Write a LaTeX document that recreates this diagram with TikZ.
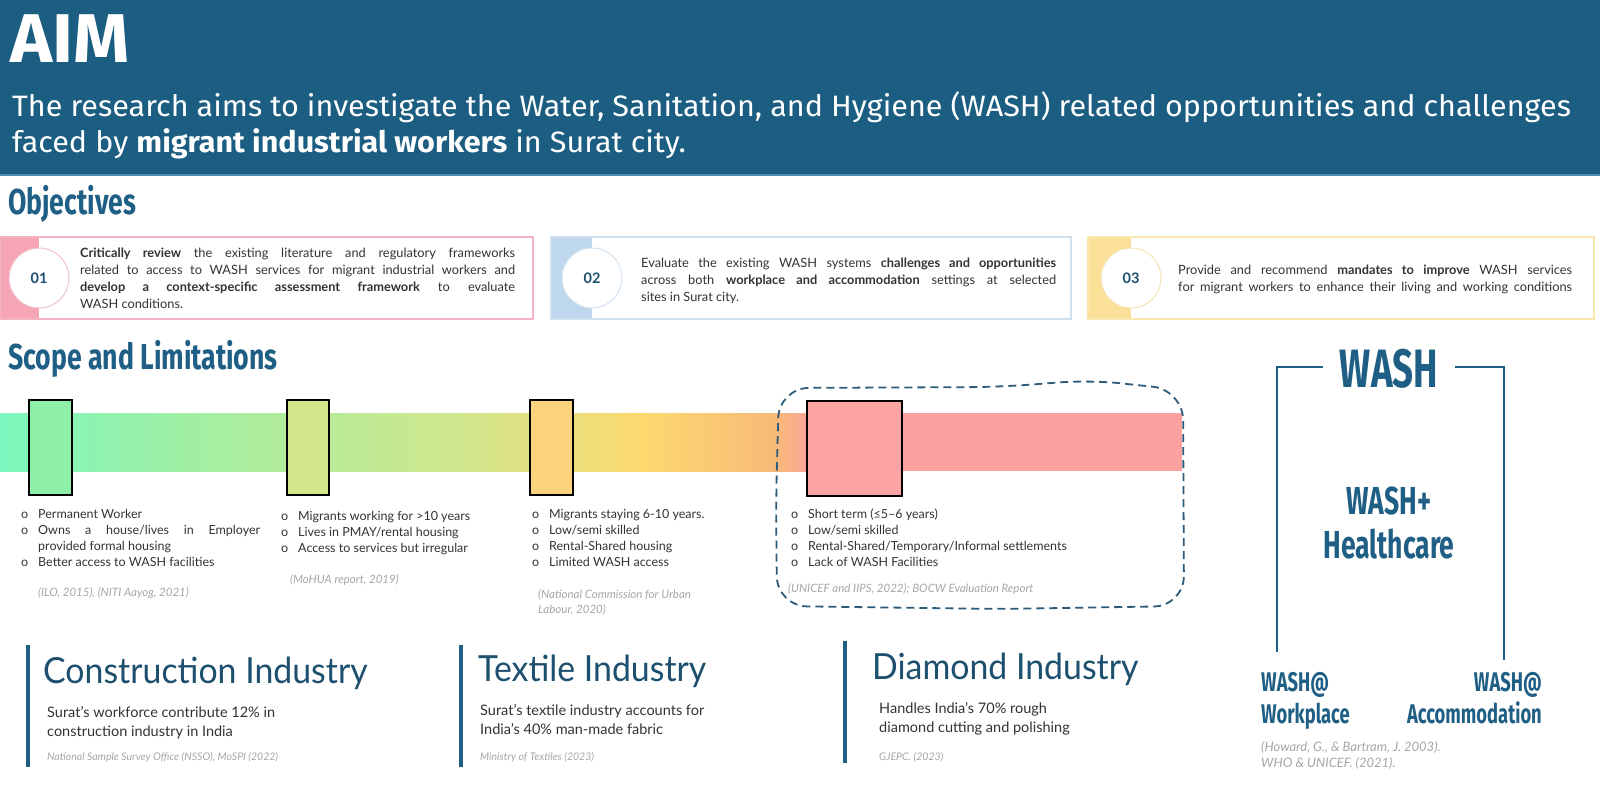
\documentclass[tikz,border=0pt]{standalone}
\usepackage{fontspec}
\usepackage{graphicx}
\setmainfont{Lato}
\newfontfamily\headfont[FakeStretch=1.035]{Fira Sans}
\newfontfamily\condfont[FakeStretch=0.68]{Fira Sans}
\newfontfamily\secfont[FakeStretch=0.74]{Fira Sans}
\newfontfamily\titlefont[FakeStretch=0.94]{Lato}
\newsavebox\jbox
\newcommand\jline[2]{\sbox\jbox{#2}\ifdim\wd\jbox>#1\relax\resizebox{#1}{\height}{#2}\else\makebox[#1][s]{#2}\fi}
\newcommand\bul{\makebox[17pt][l]{o}}
\newcommand\stk[1]{\begin{tabular}[t]{@{}l@{}}#1\end{tabular}}
\definecolor{headblue}{HTML}{1B5E82}
\definecolor{headline}{HTML}{4F8DB0}
\definecolor{secblue}{HTML}{1F5F85}
\definecolor{numblue}{HTML}{1A4E6E}
\definecolor{titleblue}{HTML}{1D4F6E}
\definecolor{bodygray}{HTML}{333333}
\definecolor{citegray}{HTML}{A6A6A6}
\definecolor{pinkborder}{HTML}{F3B3C3}
\definecolor{pinkstrip}{HTML}{F6A5B7}
\definecolor{pinkcircle}{HTML}{F0C0CC}
\definecolor{blueborder}{HTML}{CFE0EF}
\definecolor{bluestrip}{HTML}{BFD7EC}
\definecolor{bluecircle}{HTML}{D3E3F1}
\definecolor{yelborder}{HTML}{FAE7AE}
\definecolor{yelstrip}{HTML}{FBE09A}
\definecolor{yelcircle}{HTML}{F5E4B2}
\definecolor{gA}{HTML}{7CF7BD}
\definecolor{gB}{HTML}{A3EFA2}
\definecolor{gC}{HTML}{D2E68C}
\definecolor{gD}{HTML}{FCD96F}
\definecolor{gE}{HTML}{F8BA78}
\definecolor{gF}{HTML}{FBA1A0}
\definecolor{rA}{HTML}{8EF0A8}
\definecolor{rB}{HTML}{D2E78C}
\definecolor{rC}{HTML}{FCD27C}
\definecolor{rD}{HTML}{FCA3A3}
\definecolor{dashblue}{HTML}{2E5B7A}
\tikzset{
  txt/.style={inner sep=0, anchor=base west},
  bodytxt/.style={txt, text=bodygray, font=\fontsize{12.8}{17.3}\selectfont},
  bultxt/.style={txt, text=bodygray, font=\fontsize{12.5}{16.3}\selectfont},
  citetxt/.style={txt, text=citegray, font=\fontsize{11.5}{15}\selectfont\itshape},
  sechead/.style={txt, text=secblue, font=\secfont\bfseries\fontsize{36}{40}\selectfont},
  objbox/.style={line width=1.6pt},
  numcircle/.style={circle, minimum size=60pt, inner sep=0, fill=white, line width=1pt,
     text=numblue, font=\bfseries\fontsize{14.5}{16}\selectfont},
  markbox/.style={draw=black, line width=1.6pt, inner sep=0},
  indbar/.style={line width=4pt, draw=secblue},
  indtitle/.style={txt, text=titleblue, font=\titlefont\fontsize{36}{40}\selectfont},
  indsub/.style={txt, text=bodygray, font=\fontsize{14.5}{19}\selectfont},
  washtxt/.style={inner sep=0, text=secblue, font=\condfont\bfseries},
  bracket/.style={draw=secblue, line width=1.8pt},
}
\begin{document}
\begin{tikzpicture}[x=1pt,y=-1pt]
\useasboundingbox (0,0) rectangle (1600,800);
\fill[white] (0,0) rectangle (1600,800);
% header
\fill[headblue] (0,0) rectangle (1600,175);
\draw[headline, line width=1.2pt] (0,175) -- (1600,175);
\node[txt, text=white, font=\headfont\bfseries\fontsize{69}{74}\selectfont] (aim) at (10,63) {AIM};
\node[txt, text=white, font=\headfont\fontsize{29.5}{36}\selectfont] (aimA) at (12,116)
  {The research aims to investigate the Water, Sanitation, and Hygiene (WASH) related opportunities and challenges};
\node[txt, text=white, font=\headfont\fontsize{29.5}{36}\selectfont] (aimB) at (12,152)
  {faced by \textbf{migrant industrial workers} in Surat city.};
% objectives
\node[sechead] (objh) at (8,214) {Objectives};
% box 1
\fill[pinkstrip] (0,237) rectangle (39,319);
\draw[objbox, pinkborder] (0,237) rectangle (533,319);
\node[numcircle, draw=pinkcircle] (c1) at (39,278) {01};
\node[bodytxt] (t1) at (80,257) {\stk{
\jline{435pt}{\textbf{Critically review} the existing literature and regulatory frameworks}\\
\jline{435pt}{related to access to WASH services for migrant industrial workers and}\\
\jline{435pt}{\textbf{develop a context-specific assessment framework} to evaluate}\\
WASH conditions.}};
% box 2
\fill[bluestrip] (551,237) rectangle (592,319);
\draw[objbox, blueborder] (551,237) rectangle (1071,319);
\node[numcircle, draw=bluecircle] (c2) at (592,278) {02};
\node[bodytxt] (t2) at (641,267) {\stk{
\jline{415pt}{Evaluate the existing WASH systems \textbf{challenges and opportunities}}\\
\jline{415pt}{across both \textbf{workplace and accommodation} settings at selected}\\
sites in Surat city.}};
% box 3
\fill[yelstrip] (1088,237) rectangle (1131,319);
\draw[objbox, yelborder] (1088,237) rectangle (1594,319);
\node[numcircle, draw=yelcircle] (c3) at (1131,278) {03};
\node[bodytxt] (t3) at (1178,274) {\stk{
\jline{394pt}{Provide and recommend \textbf{mandates to improve} WASH services}\\
\jline{394pt}{for migrant workers to enhance their living and working conditions}}};
% scope
\node[sechead] (scopeh) at (8,369) {Scope and Limitations};
% gradient bar
\shade[left color=gA, right color=gB] (0,413) rectangle (200.5,471);
\shade[left color=gB, right color=gC] (200,413) rectangle (470.5,471);
\shade[left color=gC, right color=gD] (470,413) rectangle (640.5,471);
\shade[left color=gD, right color=gE] (640,413) rectangle (775.5,471);
\shade[left color=gE, right color=gF] (775,413) rectangle (815.5,471);
\fill[gF] (815,413) rectangle (1182,471);
% markers
\node[markbox, fill=rA, minimum width=43pt, minimum height=95pt] (m1) at (50.5,447.5) {};
\node[markbox, fill=rB, minimum width=42pt, minimum height=95pt] (m2) at (308,447.5) {};
\node[markbox, fill=rC, minimum width=43pt, minimum height=95pt] (m3) at (551.5,447.5) {};
\node[markbox, fill=rD, minimum width=95pt, minimum height=95pt] (m4) at (854.5,448.5) {};
% dashed region
\draw[dashblue, line width=1.8pt, dash pattern=on 8pt off 5pt, rounded corners=30pt]
  (776,500) -- (779,388) -- (1000,387) -- (1090,380) -- (1183,390) -- (1184,606)
  -- (1000,609) -- (777,606) -- cycle;
% bullet groups
\node[bultxt] (b1) at (21,518) {\begin{tabular}[t]{@{}l@{}l@{}}
\bul & Permanent Worker\\
\bul & \jline{222pt}{Owns a house/lives in Employer}\\
 & provided formal housing\\
\bul & Better access to WASH facilities\end{tabular}};
\node[citetxt] (r1) at (38,596) {(ILO, 2015), (NITI Aayog, 2021)};
\node[bultxt] (b2) at (281,520) {\begin{tabular}[t]{@{}l@{}l@{}}
\bul & Migrants working for >10 years\\
\bul & Lives in PMAY/rental housing\\
\bul & Access to services but irregular\end{tabular}};
\node[citetxt] (r2) at (290,583) {(MoHUA report, 2019)};
\node[bultxt] (b3) at (532,518) {\begin{tabular}[t]{@{}l@{}l@{}}
\bul & Migrants staying 6-10 years.\\
\bul & Low/semi skilled\\
\bul & Rental-Shared housing\\
\bul & Limited WASH access\end{tabular}};
\node[citetxt] (r3) at (538,598) {\stk{(National Commission for Urban\\Labour, 2020)}};
\node[bultxt] (b4) at (791,518) {\begin{tabular}[t]{@{}l@{}l@{}}
\bul & Short term (≤5–6 years)\\
\bul & Low/semi skilled\\
\bul & Rental-Shared/Temporary/Informal settlements\\
\bul & Lack of WASH Facilities\end{tabular}};
\node[citetxt] (r4) at (788,592) {(UNICEF and IIPS, 2022); BOCW Evaluation Report};
% industries
\coordinate (iA1) at (28,645); \coordinate (iA2) at (28,767);
\draw[indbar] (iA1) -- (iA2);
\node[indtitle] (indA) at (43,683) {Construction Industry};
\node[indsub] (subA) at (47,717) {\stk{Surat’s workforce contribute 12\% in\\construction industry in India}};
\node[citetxt, font=\fontsize{10.5}{13}\selectfont\itshape] (citA) at (47,760) {National Sample Survey Office (NSSO), MoSPI (2022)};
\coordinate (iB1) at (461,645); \coordinate (iB2) at (461,767);
\draw[indbar] (iB1) -- (iB2);
\node[indtitle] (indB) at (478,681) {Textile Industry};
\node[indsub] (subB) at (480,715) {\stk{Surat’s textile industry accounts for\\India’s 40\% man-made fabric}};
\node[citetxt, font=\fontsize{10.5}{13}\selectfont\itshape] (citB) at (480,760) {Ministry of Textiles (2023)};
\coordinate (iC1) at (845,641); \coordinate (iC2) at (845,763);
\draw[indbar] (iC1) -- (iC2);
\node[indtitle] (indC) at (872,679) {Diamond Industry};
\node[indsub] (subC) at (879,713) {\stk{Handles India’s 70\% rough\\diamond cutting and polishing}};
\node[citetxt, font=\fontsize{10.5}{13}\selectfont\itshape] (citC) at (879,760) {GJEPC. (2023)};
% WASH
\node[washtxt, anchor=base, font=\condfont\bfseries\fontsize{54}{58}\selectfont] (wash) at (1389,387) {WASH};
\node[washtxt, anchor=base, font=\condfont\bfseries\fontsize{39}{44}\selectfont] (washp) at (1389,514) {WASH+};
\node[washtxt, anchor=base, font=\condfont\bfseries\fontsize{39}{44}\selectfont] (hc) at (1389,558) {Healthcare};
\node[washtxt, anchor=base west, font=\condfont\bfseries\fontsize{27}{32}\selectfont] (wwa) at (1261,691) {WASH@};
\node[washtxt, anchor=base west, font=\condfont\bfseries\fontsize{27}{32}\selectfont] (wwb) at (1261,723) {Workplace};
\node[washtxt, anchor=base east, font=\condfont\bfseries\fontsize{27}{32}\selectfont] (waa) at (1542,691) {WASH@};
\node[washtxt, anchor=base east, font=\condfont\bfseries\fontsize{27}{32}\selectfont] (wab) at (1542,723) {Accommodation};
\coordinate (bl1) at (1323,367); \coordinate (bl2) at (1277,367); \coordinate (bl3) at (1277,652);
\coordinate (br1) at (1455,367); \coordinate (br2) at (1504,367); \coordinate (br3) at (1504,660);
\draw[bracket] (bl1) -- (bl2) -- (bl3);
\draw[bracket] (br1) -- (br2) -- (br3);
\node[citetxt, font=\fontsize{13}{16}\selectfont\itshape] (citW) at (1261,751)
  {\stk{(Howard, G., \& Bartram, J. 2003).\\WHO \& UNICEF. (2021).}};
\end{tikzpicture}
\end{document}
